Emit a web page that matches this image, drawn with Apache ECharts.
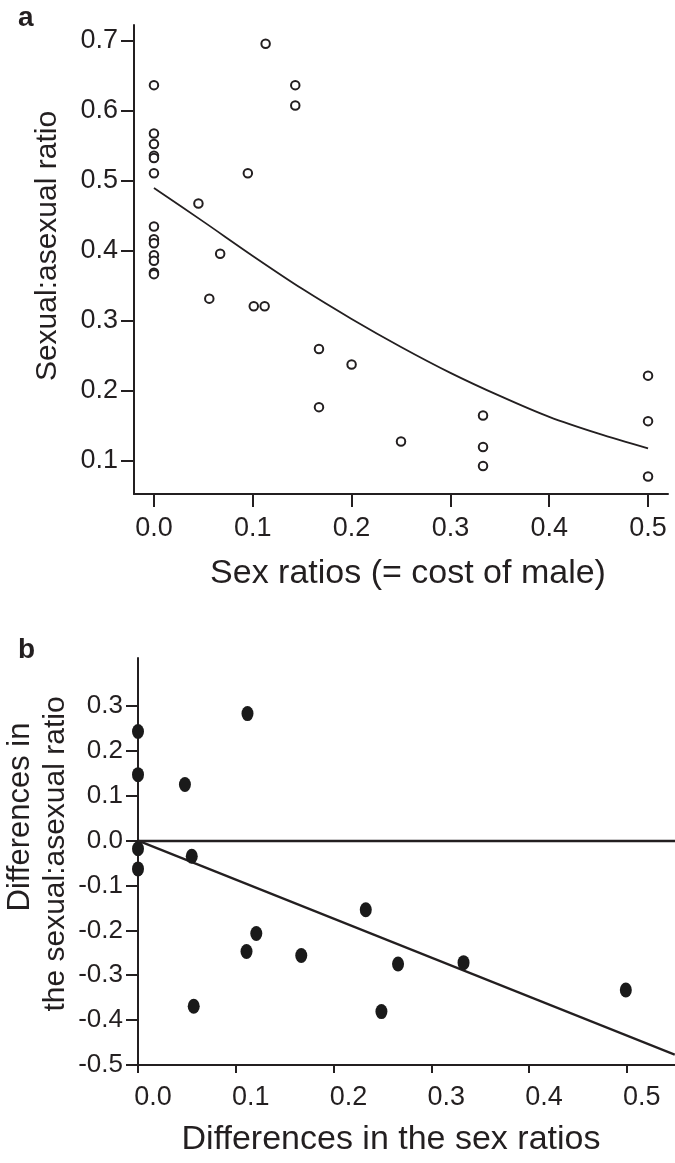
<!DOCTYPE html>
<html>
<head>
<meta charset="utf-8">
<script src="https://cdn.jsdelivr.net/npm/echarts@6/dist/echarts.min.js"></script>
<style>
html,body{margin:0;padding:0;background:#fff;}
#chart{width:675px;height:1163px;}
</style>
</head>
<body>
<div id="chart"></div>
<script>
// ---- Panel a data ----
var aX = [0,0,0,0,0,0,0,0,0,0,0,0,0,0.045,0.067,0.056,0.095,0.113,0.101,0.112,0.143,0.143,0.167,0.167,0.200,0.250,0.333,0.333,0.333,0.500,0.500,0.500];
var aY = [0.637,0.568,0.553,0.536,0.533,0.511,0.435,0.417,0.411,0.394,0.386,0.369,0.367,0.468,0.396,0.332,0.511,0.696,0.321,0.321,0.637,0.608,0.260,0.177,0.238,0.128,0.165,0.120,0.093,0.222,0.157,0.078];
var curveX = [0,0.05,0.1,0.15,0.2,0.25,0.3,0.35,0.4,0.45,0.5];
var curveY = [0.490,0.442,0.393,0.346,0.303,0.263,0.226,0.193,0.163,0.139,0.118];
var aXTicks = [0.0,0.1,0.2,0.3,0.4,0.5];
var aYTicks = [0.1,0.2,0.3,0.4,0.5,0.6,0.7];

// ---- Panel b data ----
var bX = [0,0,0.048,0.112,0,0,0.055,0.057,0.111,0.121,0.167,0.233,0.266,0.249,0.333,0.499];
var bY = [0.243,0.147,0.125,0.283,-0.018,-0.063,-0.035,-0.369,-0.247,-0.207,-0.256,-0.154,-0.275,-0.381,-0.272,-0.333];
var lineBX = [0,0.549];
var lineBY = [0,-0.477];
var bXTicks = [0.0,0.1,0.2,0.3,0.4,0.5];
var bYTicks = [-0.5,-0.4,-0.3,-0.2,-0.1,0.0,0.1,0.2,0.3];

var titleA_x = 'Sex ratios (= cost of male)';
var titleA_y = 'Sexual:asexual ratio';
var titleB_x = 'Differences in the sex ratios';
var titleB_y1 = 'Differences in';
var titleB_y2 = 'the sexual:asexual ratio';

var FONT = '"Liberation Sans", Arial, Helvetica, sans-serif';
var INK = '#231f20';

function zip(xs, ys){ return xs.map(function(x,i){ return [x, ys[i]]; }); }

var chart = echarts.init(document.getElementById('chart'), null, {renderer:'canvas'});

var axisLineStyle = {color: INK, width: 2};

var option = {
  backgroundColor: '#fff',
  animation: false,
  textStyle: {fontFamily: FONT, color: INK},
  grid: [
    {left: 134, top: 25, width: 534, height: 469},
    {left: 138, top: 658, width: 537, height: 407}
  ],
  xAxis: [
    {
      type: 'value', gridIndex: 0, min: -0.0202, max: 0.5202,
      axisLine: {show: true, onZero: false, lineStyle: axisLineStyle},
      axisTick: {show: true, length: 13, lineStyle: {color: INK, width: 2}, customValues: aXTicks},
      axisLabel: {fontSize: 27, color: INK, fontFamily: FONT, margin: 21, customValues: aXTicks,
        formatter: function(v){ return v.toFixed(1); }},
      splitLine: {show: false}
    },
    {
      type: 'value', gridIndex: 1, min: 0, max: 0.5493,
      axisLine: {show: true, onZero: false, lineStyle: axisLineStyle},
      axisTick: {show: true, length: 8, lineStyle: {color: INK, width: 2}, customValues: bXTicks},
      axisLabel: {fontSize: 27, color: INK, fontFamily: FONT, margin: 19, customValues: bXTicks,
        padding: [0,0,0,30],
        formatter: function(v){ return v.toFixed(1); }},
      splitLine: {show: false}
    }
  ],
  yAxis: [
    {
      type: 'value', gridIndex: 0, min: 0.0529, max: 0.7229,
      axisLine: {show: true, onZero: false, lineStyle: axisLineStyle},
      axisTick: {show: true, length: 13, lineStyle: {color: INK, width: 2}, customValues: aYTicks},
      axisLabel: {fontSize: 27, color: INK, fontFamily: FONT, margin: 16, customValues: aYTicks,
        formatter: function(v){ return v.toFixed(1); }},
      splitLine: {show: false}
    },
    {
      type: 'value', gridIndex: 1, min: -0.5, max: 0.4069,
      axisLine: {show: true, onZero: false, lineStyle: axisLineStyle},
      axisTick: {show: true, length: 12, lineStyle: {color: INK, width: 2}, customValues: bYTicks},
      axisLabel: {fontSize: 26, color: INK, fontFamily: FONT, margin: 15, customValues: bYTicks,
        padding: [0,0,8,0],
        formatter: function(v){ return v.toFixed(1); }},
      splitLine: {show: false}
    }
  ],
  series: [
    {
      type: 'line', xAxisIndex: 0, yAxisIndex: 0,
      data: zip(curveX, curveY), smooth: 0.3, showSymbol: false, symbol: 'none',
      lineStyle: {color: INK, width: 1.8}, z: 2
    },
    {
      type: 'scatter', xAxisIndex: 0, yAxisIndex: 0,
      data: zip(aX, aY), symbol: 'circle', symbolSize: 8.5,
      itemStyle: {color: '#fff', borderColor: INK, borderWidth: 2, opacity: 1}, z: 3
    },
    {
      type: 'line', xAxisIndex: 1, yAxisIndex: 1,
      data: zip(lineBX, lineBY), showSymbol: false, symbol: 'none',
      lineStyle: {color: INK, width: 2.2}, z: 2,
      markLine: {
        silent: true, symbol: ['none','none'], label: {show: false},
        lineStyle: {color: INK, width: 2.4, type: 'solid'},
        data: [{yAxis: 0}]
      }
    },
    {
      type: 'scatter', xAxisIndex: 1, yAxisIndex: 1,
      data: zip(bX, bY), symbol: 'circle', symbolSize: [12, 15],
      itemStyle: {color: '#1a1a1a', opacity: 1}, z: 3
    }
  ],
  graphic: [
    {type: 'text', left: 18, top: 4, style: {text: 'a', font: 'bold 28px ' + FONT, fill: INK}},
    {type: 'text', left: 18, top: 636, style: {text: 'b', font: 'bold 28px ' + FONT, fill: INK}},
    {type: 'text', x: 408, y: 574, style: {text: titleA_x, font: '34px ' + FONT, fill: INK, align: 'center', verticalAlign: 'middle'}},
    {type: 'text', x: 48, y: 246, rotation: Math.PI/2, style: {text: titleA_y, font: '30px ' + FONT, fill: INK, align: 'center', verticalAlign: 'middle'}},
    {type: 'text', x: 391, y: 1140, style: {text: titleB_x, font: '34px ' + FONT, fill: INK, align: 'center', verticalAlign: 'middle'}},
    {type: 'text', x: 20, y: 817, rotation: Math.PI/2, style: {text: titleB_y1, font: '31px ' + FONT, fill: INK, align: 'center', verticalAlign: 'middle'}},
    {type: 'text', x: 56, y: 854, rotation: Math.PI/2, style: {text: titleB_y2, font: '30px ' + FONT, fill: INK, align: 'center', verticalAlign: 'middle'}}
  ]
};
chart.setOption(option);
</script>
</body>
</html>
